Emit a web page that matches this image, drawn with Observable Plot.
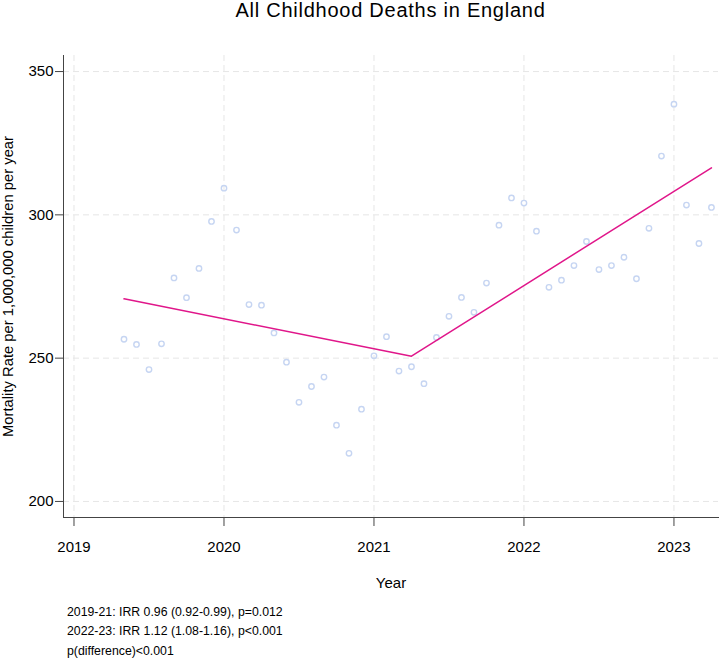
<!DOCTYPE html>
<html>
<head>
<meta charset="utf-8">
<script src="https://cdn.jsdelivr.net/npm/d3@7"></script>
<script src="https://cdn.jsdelivr.net/npm/@observablehq/plot@0.6"></script>
<style>
  html, body { margin: 0; padding: 0; background: #fff; }
  body { width: 721px; height: 665px; overflow: hidden; font-family: "Liberation Sans", Arial, sans-serif; color: #000; }
  #title { width: 721px; box-sizing: border-box; padding-left: 63px; padding-right: 3px; text-align: center; font-size: 20px; letter-spacing: 0.75px; height: 40px; line-height: 20px; }
  #notes { padding-left: 67px; font-size: 12.3px; line-height: 19.4px; margin-top: 8px; }
  svg { display: block; }
</style>
</head>
<body>
<div id="title">All Childhood Deaths in England</div>
<div id="chart"></div>
<div id="notes">
  <div>2019-21: IRR 0.96 (0.92-0.99), p=0.012</div>
  <div>2022-23: IRR 1.12 (1.08-1.16), p&lt;0.001</div>
  <div>p(difference)&lt;0.001</div>
</div>
<script>
// Monthly observations (May 2019 – Apr 2023)
const months = [
  "2019-05","2019-06","2019-07","2019-08","2019-09","2019-10","2019-11","2019-12",
  "2020-01","2020-02","2020-03","2020-04","2020-05","2020-06","2020-07","2020-08","2020-09","2020-10","2020-11","2020-12",
  "2021-01","2021-02","2021-03","2021-04","2021-05","2021-06","2021-07","2021-08","2021-09","2021-10","2021-11","2021-12",
  "2022-01","2022-02","2022-03","2022-04","2022-05","2022-06","2022-07","2022-08","2022-09","2022-10","2022-11","2022-12",
  "2023-01","2023-02","2023-03","2023-04"
];
const rates = [
  256.6, 254.8, 246.0, 255.0, 278.0, 271.1, 281.3, 297.7,
  309.3, 294.7, 268.7, 268.5, 258.8, 248.6, 234.6, 240.1, 243.4, 226.6, 216.8, 232.2,
  250.8, 257.5, 245.5, 247.0, 241.1, 257.2, 264.6, 271.2, 266.0, 276.2, 296.4, 305.9,
  304.1, 294.3, 274.7, 277.2, 282.3, 290.7, 280.9, 282.3, 285.2, 277.7, 295.3, 320.5,
  338.6, 303.4, 290.0, 302.6
];
// Fitted segmented trend
const trendMonths = ["2019-05", "2021-04", "2023-04"];
const trendRates = [270.7, 250.7, 316.4];

const yearTicks = [2019, 2020, 2021, 2022, 2023];
const rateTicks = [200, 250, 300, 350];
const yLabel = "Mortality Rate per 1,000,000 children per year";
const xLabel = "Year";

const toYear = s => { const [y, m] = s.split("-").map(Number); return y + (m - 1) / 12; };
const obs = months.map((m, i) => ({t: toYear(m), v: rates[i]}));
const trend = trendMonths.map((m, i) => ({t: toYear(m), v: trendRates[i]}));

const grid = {stroke: "#e6e6e6", strokeOpacity: 1, strokeWidth: 1, strokeDasharray: "6,4"};

const chart = Plot.plot({
  width: 721,
  height: 555,
  marginTop: 15,
  marginLeft: 63,
  marginRight: 3,
  marginBottom: 78,
  style: {fontFamily: "'Liberation Sans', Arial, sans-serif", fontSize: "15px", color: "#000", background: "#fff", overflow: "visible"},
  x: {domain: [2018.93, 2023.297], label: null},
  y: {domain: [194.4, 355.6], label: null},
  marks: [
    Plot.gridX(yearTicks, grid),
    Plot.gridY(rateTicks, grid),
    Plot.axisY(rateTicks, {tickSize: 8, tickPadding: 2, label: null, stroke: "#444", fontSize: 15}),
    Plot.axisX(yearTicks, {tickSize: 9, tickPadding: 15, tickFormat: d => String(d), label: null, stroke: "#444", fontSize: 15}),
    Plot.frame({anchor: "left", stroke: "#444"}),
    Plot.frame({anchor: "bottom", stroke: "#444"}),
    Plot.dot(obs, {x: "t", y: "v", r: 2.7, stroke: "#c6d5f2", strokeWidth: 1.4, fill: "none"}),
    Plot.line(trend, {x: "t", y: "v", stroke: "#e0168a", strokeWidth: 1.5}),
    Plot.text([xLabel], {frameAnchor: "bottom", dy: 66, lineAnchor: "middle", textAnchor: "middle", fontSize: 15}),
    Plot.text([yLabel], {frameAnchor: "left", dx: -55, rotate: -90, lineAnchor: "middle", textAnchor: "middle", fontSize: 14.8})
  ]
});
document.getElementById("chart").appendChild(chart);
</script>
</body>
</html>
